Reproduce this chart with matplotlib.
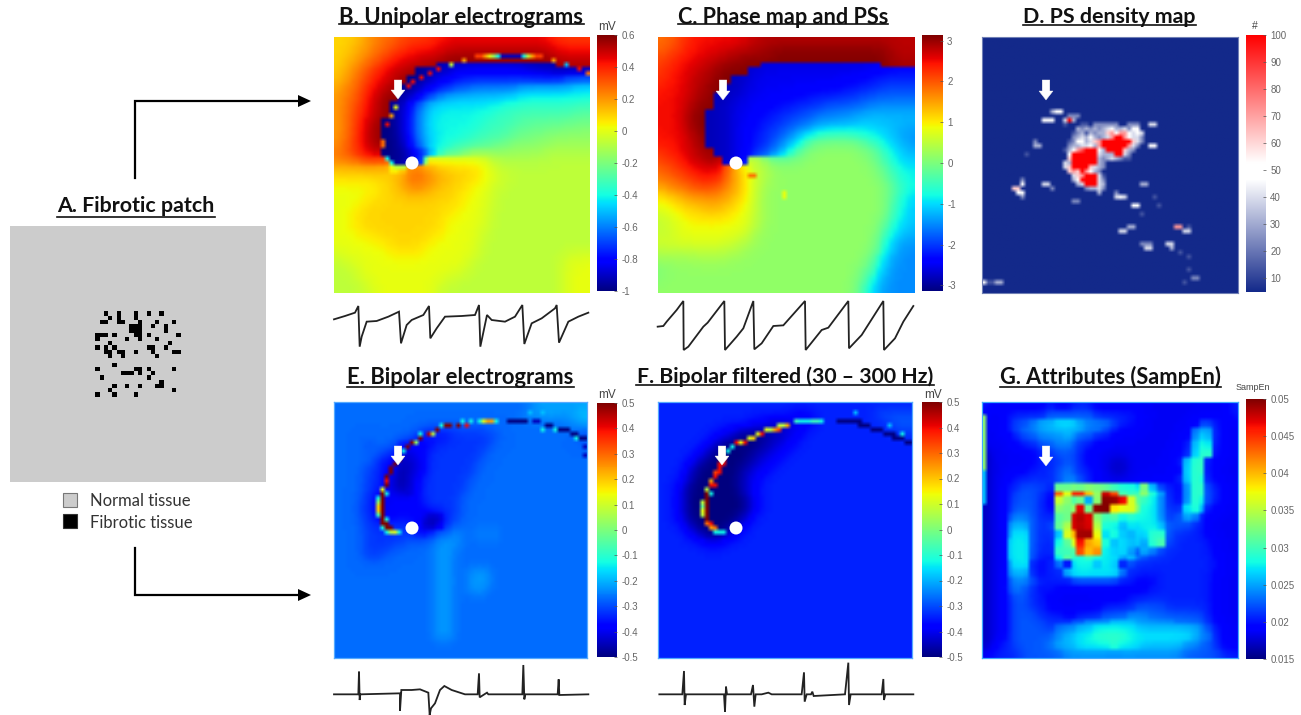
import numpy as np
import matplotlib
matplotlib.use("Agg")
import matplotlib.pyplot as plt
from matplotlib.cm import ScalarMappable
from matplotlib.colors import ListedColormap, LinearSegmentedColormap, Normalize
from matplotlib.patches import Polygon, Circle, Rectangle

W, H = 1301, 715
LEVELS = "0123456789ABCDEFGHIJ"

# ---------- data (level strings: 0 = scale min, J = scale max) ----------
unipolar_rows = [
"DDDEEFFFGGGGGHHHHHHHHHHHHHHGGGGG","DDEEEFFGGHHHHHIIIIIIIIIIIIIIHHHH",
"DDEEFFGHHHIIIJJJJJJJJJJJJJJJIIII","DEEFFGHHIIJJJ000000000000000JJJJ",
"DEFFGHHIIJ0011122222222211100000","DEFFGHHIJ00112233333333333333444",
"EFFGHHIJ001223344555555666666677","EFFGHIJJ012345666666666777777777",
"EFGGHIJ0135677777777788888888888","EFGGHIJ0135677777777888888888899",
"EFGHIJ00135677777788888999999999","EFGHIJ00135677777788888999999AAA",
"EFGHIJ00135677777888889999AAAAAA","EFGHIJ0013567778888899AAAAAAAAAA",
"FGHHIJ00012357889AAAAAAAAABBBBBB","FFFGGGH00139DDDDDDDCBBBBBBBBBBBB",
"DDDDDDEACFFEEDDDDDCCBBBBBBBBBBBB","DDDDDDDEEGGFFEEDDDDCCCBBBBBBBBBB",
"CCCCCCDDEFFEEDDDDCCBBBBBBBBBBBBB","CCCCCCDDDEEDDDDDCCCCBBBBBBBBBBBB",
"CCCCDDDDDDDDDDDDCCCCBBBBBBBBBBBB","CCCDDDDDDDDDDDDDCCCBBBBBBBBBBBBB",
"CCDDDDDDDDDDDDCCCCCBBBBBBBBBBBBB","CCDDDDDDDDDDDDCCCCCBBBBBBBBBBBBB",
"CCCDDDDDDDDDDDCCCCBBBBBBBBBBBBBB","CCCCCCDDDDDDCCCCCCBBBBBBBBBBBBBB",
"CCCCCCCDDDDCCCCCCCBBBBBBBBBBBBBB","BCCCCCCCCCCCCCCCCBBBBBBBBBBBBCCC",
"BBCCCCCCCCCCCCCCCBBBBBBBBBBBBCCC","BBBCCCCCCCCCCCCCBBBBBBBBBBBBBCCC",
"BBBCCCCCCCCCCCBBBBBBBBBBBBBBBCCC","BBBBBCCCCCCCCBBBBBBBBBBBBBBBBCCC",
]
phase_rows = [
"FFGGHHHHHHHIIIIIIIIIIIIIIIIIIIII","FGGHHHHHIIIIIIJJJJJJJJJJJJJJJIII",
"GGHHHHIIIIJJJJJJJJJJJJJJJJJJJIII","GHHHHIIIJJJJJ111111111111111JJJJ",
"GHHHIIIJJJJ112222222222222222222","GHHHIIIJJ11222222222222222333333",
"HHHHIIJJ111222222222222333334444","HHHIIIJ1112222222233333334444444",
"HHHIIJJ1122222233333344444555555","HHHIJJ11122223333444555566666666",
"HHHIJJ11122223334445555556666666","HHHIJJ11122233344556677777666655",
"HHHHIJ11122233445677888887776655","HHHHIJ1112223345679AAAAAA9887665",
"GHHHIIJ11222334579AAAAAAAAA98766","GGHHIIJJ112CCBAAAAAAAAAAAA998766",
"FGGGHHHIFEDCBBAAAAAAAAAAAAAA9877","FFGGGHHHFEDCBBAAAAAAAAAAAAAA9877",
"EFFFGGGGFEDCBAAAAAAAAAAAAAAAA987","DEEEFFFFEEDCBAAAAAAAAAAAAAAAA987",
"CDDEEEEEEDDCBAAAAAAAAAAAAAAAA876","CCDDDDEEDDCCBAAAAAAAAAAAAAAAA876",
"BCCCDDDDDCCCBAAAAAAAAAAAAAAAA876","BBCCCCCCCCCCBAAAAAAAAAAAAAAA9766",
"BBCCCCCCCCCBAAAAAAAAAAAAAAAA8766","CCCCCCCCCBBBAAAAAAAAAAAAAAAA7655",
"BBBBBBBBBBAAAAAAAAAAAAAAAAAA7655","AAAAABBBAAAAAAAAAAAAAAAAAA976555",
"AAAAAAAAAAAAAAAAAAAAAAAAAA976555","9AAAAAAAAAAAAAAAAAAAAAAAA9966555",
"AAAAAAAAAAAAAAAAAAAAAAAAA9765555","AAAAAAAAAAAAAAAAAAAAAAAAA8665555",
]
bipolar_rows = [
"44444444444444444444444445555555","44444444444444444444444455565556",
"44444444444444444444444444444455","44444444444333333334444444444444",
"44444444443222233333344444444443","44443444221223333333444444444444",
"44444433112233333334444444444444","44444322011233333344444444444444",
"44443322011233333344444444444444","44443321012333333444444444444444",
"44443321012333333444444444444444","44443222102333334444444444444444",
"44433212222333334444444444444444","44433212222233334444444444444444",
"44433212222100334444444444444444","44443333332001344444444444444444",
"44443333332234454454544444444444","44443333344445554444444444444444",
"44443334444445544444444444444444","44443344444445544444444444444444",
"44444444444445544444444444444444","44444444444445544555444444444444",
"44444444444445544555444444444444","44444444444445544554444444444444",
"44444444444445544444444444444444","44444444444445544444444444444444",
"44444444444445544444444444444444","44444444444445544444444444444444",
"44444444444445544444444444444444","44444444444445544444444444444444",
"44444444444444444444444444444444","44444444444444444444444444444444",
]
filtered_rows = [
"33333333333333333333333333333333","33333333333333333223333333344444",
"33333333333322111222333333333444","33333333221111112233333333333344",
"33333332210000112233333333333333","33333321000001122333333333333333",
"33333210000011223333333333333333","33332100000112233333333333333333",
"33321000001122333333333333333333","33321000001223333333333333333333",
"33210000001223333333333333333333","33210000001233333333333333333333",
"33210000000123333333333333333333","33210000000123333333333333333333",
"33210000001233333333333333333333","33321000012333333333333333333333",
"33332100123333333333333333333333","33333322333333333333333333333333",
] + ["33333333333333333333333333333333"] * 14
sampen_rows = [
"32222222322333222222222222222223","22233333444444333333222222222223",
"22234456677765554332222222244322","22234556666665543222222222566322",
"22223445556544332222222222576322","22222334455433222222222223687322",
"12222223344432222222222223688322","12222223334432221122222236883222",
"12222233345433221122222226883222","12223333345543222222222236873222",
"12233444399A9A998776A64325884322","122344432GDHHEBHF988B86325884322",
"122344432CA795AJJHC9875325874322","122344432A9BH9JJDCCA775337863222",
"12245543389HJHA89787775346532222","1225664349BHIHB77576776444332222",
"1225774336CEJJC68657688433332222","12267743379CHED85767589433333222",
"122677433889GDF76753654333333222","1226774327A879877575433333333222",
"122577323526775762433333333333222","12256632336777777533333333333222",
"12245543333444444332223333333222","12245432322222222222233333333222",
"12234433222222222233333333333222","12234433222222233334444333333222",
"12234443332233344455544444443222","12234444333445556665555544443222",
"12234444355566777776666666654322","12234444456677888877777777655322",
"12334444566677778777666665544322","23333444445555555555555554444433",
]
# (row, first column, levels) of the 60 x 60 recording grid
unipolar_edge = [(4,33,"GGECA7111117BEGG"),(5,30,"E"),(5,51,"E"),(6,27,"B"),(6,54,"6"),(7,24,"H"),(7,57,"H"),
 (8,22,"H"),(8,59,"F"),(9,20,"H"),(10,18,"H"),(11,17,"H"),(16,14,"C"),(18,13,"E"),(20,12,"H"),(24,11,"F"),(25,11,"F"),
 (28,12,"7"),(29,13,"7"),(30,14,"BBB")]
phase_marks = [(32,21,"FF"),(36,29,"C"),(37,29,"C")]
bipolar_edge = [(2,46,"6"),(2,49,"6"),(4,30,"7"),(4,32,"7"),(4,34,"7CEE7"),(4,41,"00000"),(4,47,"11"),(5,26,"JJ"),(5,25,"7"),
 (5,29,"J"),(5,31,"H"),(5,50,"00"),(6,24,"J"),(6,49,"7"),(6,52,"7"),(6,53,"000"),(7,20,"7"),(7,22,"I"),(7,23,"B"),(7,56,"00"),
 (8,20,"J"),(8,57,"7"),(8,58,"00"),(9,18,"J"),(9,19,"A"),(10,17,"J"),(10,59,"1"),(11,16,"7"),(12,59,"1"),(13,15,"J"),(14,14,"J"),(15,13,"J"),
 (16,13,"J"),(17,12,"J"),(18,12,"H"),(19,12,"J"),(20,11,"C"),(21,11,"J"),(21,12,"7"),(22,10,"7J"),(23,10,"AJ"),(24,10,"DJ"),
 (25,10,"DJ"),(26,10,"8J"),(27,11,"J7"),(28,11,"JJ"),(29,11,"7JJ"),(30,12,"7BC7")]
filtered_edge = [(2,46,"6"),(4,32,"877788"),(4,38,"7"),(4,42,"000000"),(5,28,"BBE"),(5,47,"000"),(5,54,"6"),(6,25,"CBEG"),(6,50,"000"),
 (7,23,"CH"),(7,53,"000"),(7,57,"7"),(8,21,"CD"),(8,55,"000"),(9,18,"HC"),(9,20,"H"),(9,58,"00"),(10,17,"7"),(11,16,"7"),(13,15,"H"),
 (14,14,"HH"),(15,14,"H"),(16,13,"GH"),(17,13,"H"),(18,12,"E"),(19,12,"H"),(19,13,"H"),(20,11,"B"),(21,11,"J"),(21,12,"7"),(22,11,"J"),
 (23,10,"BJ"),(24,10,"9J"),(25,10,"CJ"),(26,10,"BJ"),(27,11,"J"),(28,11,"FH"),(29,12,"EF"),(30,13,"777")]
sampen_edge = [(r,0,"A") for r in range(3,16)] + [(r,0,"6") for r in range(16,24)]

fibrotic_cols = [22,23,21,22,25,25,25,26,29,29,32,35,34,33,38,36,36,28,29,30,30,28,29,30,29,30,30,20,21,22,20,24,27,32,34,39,
                 37,36,20,23,22,24,22,23,23,25,26,26,29,32,33,33,34,38,39,24,20,29,30,30,26,27,28,32,33,32,38,21,24,23,24,20,27,30,29,35,35,34,38]
fibrotic_rows = [20,21,22,22,20,21,22,22,20,21,20,20,22,23,22,23,24,23,23,22,23,24,24,24,25,25,26,25,25,25,26,25,26,25,26,25,
                 27,28,28,27,28,28,29,29,30,29,29,30,29,28,28,29,30,29,29,32,33,33,33,34,34,34,34,33,34,35,33,35,37,38,39,39,37,37,39,36,37,37,38]
# (row, first column, count codes) of the density map
density_runs = [(17,16,"355"),(18,20,"222"),(19,14,"555"),(19,19,"493"),(20,19,"1"),(20,23,"11"),(20,26,"222222"),(20,34,"222"),(20,39,"44"),
 (21,22,"32323234533425"),(21,36,"5"),(22,21,"12313233675775454"),(23,21,"23435323479975442"),
 (24,12,"2"),(24,20,"125534679999999642"),(25,12,"33"),(25,20,"23344537999999742"),(25,39,"55"),
 (26,19,"13578999539999632"),(27,10,"1"),(27,20,"599999943339942"),(28,20,"699999932343211"),
 (29,19,"4399999932"),(30,19,"4699996432"),(31,20,"67697532"),(32,21,"46799941"),
 (33,9,"2"),(33,21,"35999942"),(34,9,"5"),(34,14,"44"),(34,22,"3499943"),(34,37,"33"),(35,7,"66"),(35,16,"2"),(35,24,"23342"),
 (36,8,"55"),(36,27,"3"),(36,31,"2"),(37,9,"2"),(37,31,"454"),(37,40,"1"),(38,21,"22"),(39,35,"55"),(39,41,"1"),(41,37,"1"),
 (44,34,"33"),(44,45,"77"),(44,48,"1"),(45,32,"44"),(45,47,"44"),(48,37,"222"),(48,43,"44"),(49,38,"44"),(49,44,"3"),(50,46,"1"),
 (51,48,"1"),(54,48,"1"),(56,49,"22"),(57,0,"5"),(57,1,"11"),(57,3,"33"),(57,47,"1")]
density_codes = [5,14,24,32,40,50,62,72,85,100]

unipolar_trace_x = [27,60,90,100,104,110,125,155,190,222,228,245,260,295,312,316,335,360,410,450,462,466,486,500,540,570,592,598,620,650,690,695,702,730,760,790]
unipolar_trace_y = [958,948,938,918,1040,1010,965,963,950,935,1030,975,960,945,918,1015,985,950,948,945,915,1040,945,960,965,950,915,1032,970,955,925,915,1028,965,950,938]
phase_trace_x = [38,55,65,95,115,116,130,175,188,238,240,275,295,325,328,350,385,415,480,482,530,550,610,612,650,715,717,750,775,805]
phase_trace_y = [980,978,965,930,903,1050,1040,980,968,903,1050,1010,985,903,1048,1030,978,976,903,1050,990,983,903,1045,1005,903,1050,1015,965,918]
bipolar_trace_x = [27,100,102,104,106,225,225,229,260,285,310,314,318,330,345,358,380,420,458,462,464,478,486,490,592,595,598,601,698,701,703,790]
bipolar_trace_y = [1003,1003,935,1020,1003,1000,1052,990,990,988,998,1065,1045,1030,990,978,990,1003,1003,940,1012,1003,998,1003,1003,915,1018,1003,1003,958,1005,1003]
filtered_trace_x = [103,172,177,179,183,297,300,303,306,378,384,388,392,410,430,440,530,537,539,545,558,562,566,660,670,672,677,770,775,777,781,865]
filtered_trace_y = [1003,1003,933,1035,1003,1003,1055,980,1003,1003,975,1040,1003,1003,998,1003,1003,937,1025,1003,1003,995,1008,1003,908,1035,1003,1003,957,1020,1003,1003]

unipolar_ticks = [-1,-0.8,-0.6,-0.4,-0.2,0,0.2,0.4,0.6]
phase_ticks = [-3,-2,-1,0,1,2,3]
density_ticks = [10,20,30,40,50,60,70,80,90,100]
bipolar_ticks = [-0.5,-0.4,-0.3,-0.2,-0.1,0,0.1,0.2,0.3,0.4,0.5]
sampen_ticks = [0.015,0.02,0.025,0.03,0.035,0.04,0.045,0.05]

titles = ["A. Fibrotic patch","B. Unipolar electrograms","C. Phase map and PSs","D. PS density map",
          "E. Bipolar electrograms","F. Bipolar filtered (30 – 300 Hz)","G. Attributes (SampEn)"]

# ---------- helpers ----------
plt.rcParams["font.family"] = ["Liberation Sans", "DejaVu Sans"]
fig = plt.figure(figsize=(W/100, H/100), dpi=100, facecolor="white")

def px_axes(x0, y0, x1, y1):
    ax = fig.add_axes([x0/W, 1-y1/H, (x1-x0)/W, (y1-y0)/H])
    ax.set_xticks([]); ax.set_yticks([])
    return ax

def decode(rows, vmin, vmax):
    idx = [[LEVELS.index(c) for c in (r + r[-1]*32)[:32]] for r in rows]
    return vmin + np.array(idx, float)/19*(vmax-vmin)

def display_grid(rows, vmin, vmax, sig_s, sig_v):
    """Display resampling of the read grid to the 60 x 60 recording grid; keeps the wavefront sharp."""
    coarse = decode(rows, vmin, vmax)
    idx = ((np.arange(60)+0.5)/60*32).astype(int)
    base = coarse[np.ix_(idx, idx)]
    r = int(2.5*sig_s)
    pad = np.pad(base, r, mode="edge")
    num = np.zeros((60, 60)); den = np.zeros((60, 60))
    for dy in range(-r, r+1):
        for dx in range(-r, r+1):
            s = pad[r+dy:r+dy+60, r+dx:r+dx+60]
            w = np.exp(-(dx*dx+dy*dy)/(2*sig_s**2) - ((s-base)/((vmax-vmin)*sig_v))**2/2)
            num += w*s; den += w
    return num/den

def colorbar(rect, norm, cmap, ticks, labels=None, size=7):
    cax = px_axes(*rect)
    cb = fig.colorbar(ScalarMappable(norm=norm, cmap=cmap), cax=cax)
    cb.set_ticks(ticks)
    if labels is None:
        labels = [f"{t:g}" for t in ticks]
    cb.set_ticklabels(labels)
    cax.tick_params(labelsize=size, labelcolor="#666666", color="#555555", length=2, width=0.5, direction="in", pad=3)
    cb.outline.set_visible(False)

def heat(rect, rows, runs, vmin, vmax, cbar_rect, ticks, sig_s, sig_v, spine=None, shift=0.0):
    ax = px_axes(*rect)
    norm = Normalize(vmin, vmax)
    grid = display_grid(rows, vmin, vmax, sig_s, sig_v) + shift
    for row, col, s in (runs or []):
        for k, c in enumerate(s):
            if col+k < 60:
                grid[row, col+k] = vmin + LEVELS.index(c)/19*(vmax-vmin)
    ax.imshow(grid, cmap="jet", norm=norm, extent=(0,60,60,0), aspect="auto",
              interpolation="bilinear", interpolation_stage="rgba")
    for s in ax.spines.values():
        if spine: s.set_color(spine); s.set_linewidth(0.9)
        else: s.set_visible(False)
    colorbar(cbar_rect, norm, "jet", ticks)

def trace(crop, xs, ys):
    x, y, w, h = crop
    ax = px_axes(x, y, x+w, y+h)
    ax.set_xlim(0, w*3); ax.set_ylim(h*3, 0)
    ax.plot(xs, ys, color="#222222", lw=1.3, solid_joinstyle="miter")
    ax.axis("off"); ax.patch.set_alpha(0)

# ---------- panel A ----------
patch = np.zeros((60, 60))
patch[fibrotic_rows, fibrotic_cols] = 1
axA = px_axes(10, 226, 266, 482)
axA.imshow(patch, cmap=ListedColormap(["#cccccc", "#000000"]), extent=(0,60,60,0), aspect="auto", interpolation="nearest")
for s in axA.spines.values(): s.set_visible(False)

# ---------- maps ----------
heat((334,37,590,293), unipolar_rows, unipolar_edge, -1, 0.6, (597,35,617,291), unipolar_ticks, 2.2, 0.25)
heat((658,37,914,293), phase_rows, phase_marks, -3.14, 3.14, (922,35,943,291), phase_ticks, 2.2, 0.25)
heat((334,402,587,658), bipolar_rows, bipolar_edge, -0.5, 0.5, (597,403,617,657), bipolar_ticks, 1.6, 0.15, spine="#55aaff", shift=0.02)
heat((658,402,912,658), filtered_rows, filtered_edge, -0.5, 0.5, (922,402,942,657), bipolar_ticks, 1.6, 0.2, spine="#55aaff")
heat((982,402,1238,658), sampen_rows, sampen_edge, 0.015, 0.05, (1246,399,1266,659), sampen_ticks, 1.6, 0.1, spine="#3fa9ff")

density = np.full((60, 60), 5.0)
for row, col, s in density_runs:
    for k, c in enumerate(s):
        density[row, col+k] = density_codes[int(c)]
dens_cmap = LinearSegmentedColormap.from_list("ps", [(0,"#13298a"),(0.44,"#ffffff"),(0.5,"#ffffff"),(1,"#ff0000")])
axD = px_axes(982, 37, 1238, 293)
dn = Normalize(5, 100)
axD.imshow(density, cmap=dens_cmap, norm=dn, extent=(0,60,60,0), aspect="auto", interpolation="bilinear", interpolation_stage="rgba")
for s in axD.spines.values(): s.set_color("#6f7fb5"); s.set_linewidth(0.8)
colorbar((1246,35,1266,292), dn, dens_cmap, density_ticks)

# ---------- traces ----------
trace((325,0,320,360), unipolar_trace_x, unipolar_trace_y)
trace((645,0,320,360), phase_trace_x, phase_trace_y)
trace((325,360,320,355), bipolar_trace_x, bipolar_trace_y)
trace((625,360,340,355), filtered_trace_x, filtered_trace_y)

# ---------- annotation layer in image pixels ----------
ov = fig.add_axes([0,0,1,1], zorder=20)
ov.set_xlim(0, W); ov.set_ylim(H, 0); ov.axis("off"); ov.patch.set_alpha(0)

for cx, top, tip in [(398,80,99),(723,80,100),(1046,80,100),(398,446,465),(722,446,465),(1046,446,466)]:
    ov.add_patch(Polygon([(cx-3.8,top),(cx+3.8,top),(cx+3.8,tip-9),(cx+7,tip-9),(cx,tip),(cx-7,tip-9),(cx-3.8,tip-9)],
                         closed=True, fc="white", ec="#f0f0f0", lw=0.3))
for cx, cy in [(412,163),(736,163),(412,528),(736,528)]:
    ov.add_patch(Circle((cx,cy), 6.5, fc="white", ec="none"))

for pts, head in [([(135,178),(135,101),(300,101)], 101), ([(135,548),(135,595),(300,595)], 595)]:
    ov.plot(*zip(*pts), color="black", lw=1.6, solid_joinstyle="miter")
    ov.add_patch(Polygon([(298,head-6),(311,head),(298,head+6)], closed=True, fc="black", ec="none"))

ov.add_patch(Rectangle((63,493),14,14, fc="#cccccc", ec="#777777", lw=0.8))
ov.add_patch(Rectangle((63,514),14,14, fc="#000000", ec="#333333", lw=0.8))
ov.text(90,500.5,"Normal tissue",family="Lato",fontsize=12,color="#333333",va="center",ha="left")
ov.text(90,522.5,"Fibrotic tissue",family="Lato",fontsize=12,color="#333333",va="center",ha="left")

for lx, ly, s, fs in [(607,27,"mV",8.5),(607,395,"mV",8.5),(933,395,"mV",8.5),(1255,26,"#",7.5),(1253,387,"SampEn",6.5)]:
    ov.text(lx, ly, s, fontsize=fs, color="#444444", ha="center", va="center")

renderer = fig.canvas.get_renderer()
title_spec = [(136,206,158,217),(461,17,245,24),(783,17,210,24),(1109,17,173,25),(460,377,227,387),(785,377,298,385),(1110,377,221,387)]
for text, (cx, cy, width, uy) in zip(titles, title_spec):
    t = ov.text(cx, cy, text, family="Lato", fontweight="bold", fontsize=15, color="#111111", ha="center", va="center")
    t.set_fontsize(15*width/t.get_window_extent(renderer).width)
    ov.plot([cx-width/2, cx+width/2], [uy, uy], color="#111111", lw=1.2)

fig.savefig("out.png", dpi=100)
